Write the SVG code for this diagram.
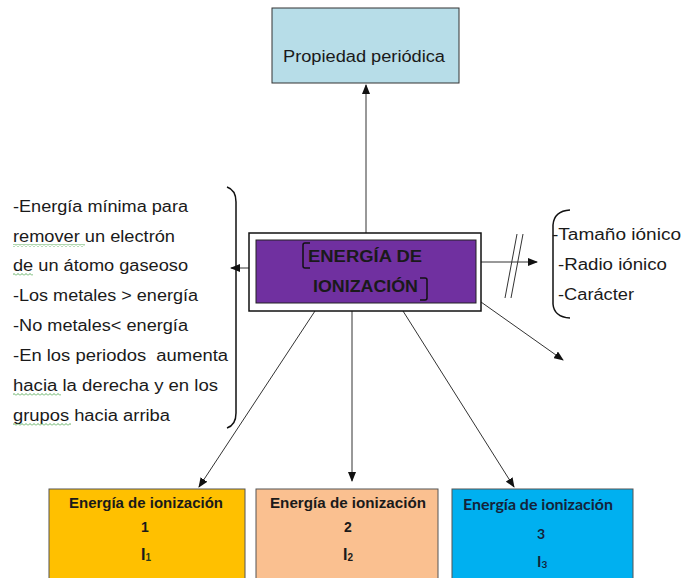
<svg xmlns="http://www.w3.org/2000/svg" width="683" height="578" viewBox="0 0 683 578">
<style>
.t{font-family:"Liberation Sans",Arial,sans-serif;font-size:16px;fill:#1a1a1a;white-space:pre}
.b{font-family:"Liberation Sans",Arial,sans-serif;font-weight:bold;fill:#1a1a1a}
.l{font-family:Lato,"Open Sans",sans-serif;font-weight:bold;fill:#14233a}
.c{stroke:#333;stroke-width:1;fill:none}
.bx{stroke:#555;stroke-width:1}
</style>
<defs>
<marker id="ah" markerWidth="10" markerHeight="8" refX="9" refY="4" orient="auto" markerUnits="userSpaceOnUse">
<path d="M0,0 L10,4 L0,8 Z" fill="#111"/>
</marker>
<pattern id="sq" width="4" height="3" patternUnits="userSpaceOnUse">
<path d="M0,2.5 L2,0.5 L4,2.5" stroke="#3a9a3a" stroke-width="0.8" fill="none"/>
</pattern>
</defs>
<rect width="683" height="578" fill="#fff"/>
<g id="connectors">
<line class="c" x1="366" y1="233" x2="366" y2="85" marker-end="url(#ah)"/>
<line class="c" x1="249" y1="268" x2="231" y2="268" marker-end="url(#ah)"/>
<line class="c" x1="481" y1="262" x2="537" y2="262" marker-end="url(#ah)"/>
<line class="c" x1="505" y1="298" x2="517" y2="234"/>
<line class="c" x1="511" y1="298" x2="523" y2="234"/>
<line class="c" x1="481" y1="302" x2="563" y2="360" marker-end="url(#ah)"/>
<line class="c" x1="315" y1="311" x2="199" y2="487" marker-end="url(#ah)"/>
<line class="c" x1="352" y1="311" x2="352" y2="481" marker-end="url(#ah)"/>
<line class="c" x1="403" y1="311" x2="514" y2="487" marker-end="url(#ah)"/>
</g>
<g id="propiedad">
<rect x="272" y="8" width="187" height="75" fill="#b7dde8" stroke="#333" stroke-width="1"/>
<text class="t" x="364" y="62" text-anchor="middle" textLength="162" lengthAdjust="spacingAndGlyphs">Propiedad periódica</text>
</g>
<g id="energia">
<rect x="249" y="233" width="232" height="78" fill="#fff" stroke="#111" stroke-width="1.5"/>
<rect x="256" y="240" width="220" height="63" fill="#7030a0" stroke="#222" stroke-width="1"/>
<text class="b" x="308" y="262" font-size="16" textLength="114" lengthAdjust="spacingAndGlyphs">ENERGÍA DE</text>
<text class="b" x="313" y="292" font-size="16" textLength="105" lengthAdjust="spacingAndGlyphs">IONIZACIÓN</text>
<path d="M310,243 L305,243 Q303,243 303,245 L303,266 Q303,268 305,268 L310,268" fill="none" stroke="#111" stroke-width="1.5"/>
<path d="M420,278 L425,278 Q427,278 427,280 L427,298 Q427,300 425,300 L420,300" fill="none" stroke="#111" stroke-width="1.5"/>
</g>
<g id="definicion">
<path d="M227,187 Q236,190 236,202 L236,413 Q236,425 227,428" fill="none" stroke="#111" stroke-width="1.5"/>
<text class="t" x="13" y="212" textLength="175" lengthAdjust="spacingAndGlyphs">-Energía mínima para</text>
<text class="t" x="13" y="242" textLength="162" lengthAdjust="spacingAndGlyphs">remover un electrón</text>
<text class="t" x="13" y="271" textLength="175" lengthAdjust="spacingAndGlyphs">de un átomo gaseoso</text>
<text class="t" x="13" y="301" textLength="185" lengthAdjust="spacingAndGlyphs">-Los metales &gt; energía</text>
<text class="t" x="13" y="331" textLength="175" lengthAdjust="spacingAndGlyphs">-No metales&lt; energía</text>
<text class="t" x="13" y="361" textLength="215" lengthAdjust="spacingAndGlyphs" xml:space="preserve">-En los periodos  aumenta</text>
<text class="t" x="13" y="391" textLength="205" lengthAdjust="spacingAndGlyphs">hacia la derecha y en los</text>
<text class="t" x="13" y="421" textLength="157" lengthAdjust="spacingAndGlyphs">grupos hacia arriba</text>
<rect x="13" y="244" width="72" height="3" fill="url(#sq)"/>
<rect x="13" y="273" width="20" height="3" fill="url(#sq)"/>
<rect x="13" y="393" width="48" height="3" fill="url(#sq)"/>
<rect x="13" y="423" width="58" height="3" fill="url(#sq)"/>
</g>
<g id="propiedades">
<path d="M570,210 Q554,211 553,225 L553,304 Q554,317 570,318" fill="none" stroke="#111" stroke-width="1.5"/>
<text class="t" x="552" y="240" textLength="129" lengthAdjust="spacingAndGlyphs">-Tamaño iónico</text>
<text class="t" x="558" y="270" textLength="109" lengthAdjust="spacingAndGlyphs">-Radio iónico</text>
<text class="t" x="558" y="300" textLength="76" lengthAdjust="spacingAndGlyphs">-Carácter</text>
</g>
<g id="ei1">
<rect class="bx" x="49" y="489" width="196" height="94" fill="#ffc000"/>
<text class="b" x="146" y="508" font-size="15" text-anchor="middle" textLength="154" lengthAdjust="spacingAndGlyphs">Energía de ionización</text>
<text class="b" x="145" y="532" font-size="14" text-anchor="middle">1</text>
<text class="b" x="141" y="560" font-size="16">I<tspan font-size="10" dy="1" fill="#2a3a1a">1</tspan></text>
</g>
<g id="ei2">
<rect class="bx" x="256" y="489" width="182" height="94" fill="#fac090"/>
<text class="b" x="348" y="508" font-size="15" text-anchor="middle" textLength="156" lengthAdjust="spacingAndGlyphs">Energía de ionización</text>
<text class="b" x="348" y="532" font-size="14" text-anchor="middle">2</text>
<text class="b" x="343" y="560" font-size="16">I<tspan font-size="10" dy="1">2</tspan></text>
</g>
<g id="ei3">
<rect class="bx" x="452" y="489" width="181" height="94" fill="#00b0f0"/>
<text class="l" x="538" y="510" font-size="15" text-anchor="middle" textLength="150" lengthAdjust="spacingAndGlyphs">Energía de ionización</text>
<text class="l" x="541" y="539" font-size="14" text-anchor="middle">3</text>
<text class="l" x="537" y="567" font-size="15">I<tspan font-size="10" dy="1">3</tspan></text>
</g>
</svg>
